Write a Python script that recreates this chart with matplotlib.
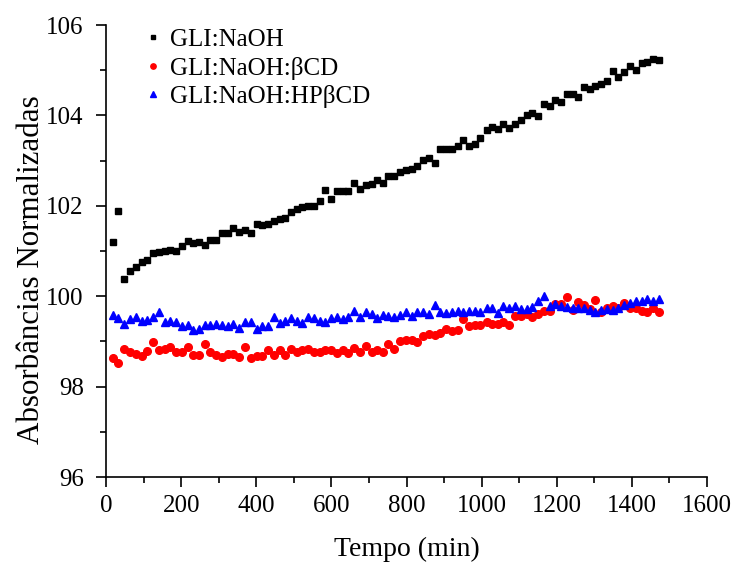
import numpy as np
import matplotlib
matplotlib.use("Agg")
import matplotlib.pyplot as plt
from matplotlib.ticker import MultipleLocator

plt.rcParams['font.family'] = ['Liberation Serif', 'DejaVu Serif']
plt.rcParams['mathtext.fontset'] = 'stix'

# Sampling times (min)
tempo = [18, 33, 49, 64, 79, 95, 110, 125, 140, 156, 171, 186, 202, 217, 232, 248,
         263, 278, 293, 309, 324, 339, 355, 370, 385, 401, 416, 431, 446, 462, 477, 492,
         508, 523, 538, 554, 569, 584, 599, 615, 630, 645, 661, 676, 691, 707, 722, 737,
         752, 768, 783, 798, 814, 829, 844, 860, 875, 890, 905, 921, 936, 951, 967, 982,
         997, 1013, 1028, 1043, 1058, 1074, 1089, 1104, 1120, 1135, 1150, 1166, 1181, 1196, 1211, 1227,
         1242, 1257, 1273, 1288, 1303, 1319, 1334, 1349, 1364, 1380, 1395, 1410, 1426, 1441, 1456, 1472]

gli_naoh = [101.21, 101.88, 100.37, 100.56, 100.65, 100.76, 100.80, 100.95, 100.98, 101.00,
            101.03, 101.01, 101.12, 101.22, 101.17, 101.20, 101.13, 101.24, 101.24, 101.40,
            101.39, 101.50, 101.42, 101.46, 101.40, 101.60, 101.58, 101.60, 101.67, 101.71,
            101.74, 101.86, 101.92, 101.98, 102.00, 102.00, 102.11, 102.34, 102.16, 102.33,
            102.33, 102.33, 102.50, 102.38, 102.45, 102.48, 102.57, 102.51, 102.66, 102.67,
            102.74, 102.80, 102.81, 102.88, 103.01, 103.06, 102.95, 103.25, 103.25, 103.25,
            103.33, 103.46, 103.33, 103.37, 103.49, 103.68, 103.75, 103.70, 103.80, 103.72,
            103.82, 103.90, 104.00, 104.05, 103.99, 104.26, 104.21, 104.34, 104.30, 104.47,
            104.47, 104.41, 104.63, 104.59, 104.64, 104.69, 104.77, 104.99, 104.86, 104.97,
            105.09, 105.00, 105.17, 105.19, 105.25, 105.23]

gli_naoh_bcd = [98.63, 98.53, 98.84, 98.76, 98.72, 98.68, 98.79, 98.98, 98.82, 98.83,
                98.87, 98.77, 98.77, 98.88, 98.69, 98.69, 98.95, 98.77, 98.70, 98.66,
                98.73, 98.72, 98.66, 98.87, 98.64, 98.68, 98.68, 98.81, 98.70, 98.82,
                98.70, 98.83, 98.76, 98.80, 98.83, 98.77, 98.77, 98.81, 98.80, 98.74,
                98.81, 98.75, 98.86, 98.77, 98.89, 98.77, 98.80, 98.77, 98.94, 98.83,
                99.01, 99.03, 99.04, 98.99, 99.12, 99.16, 99.14, 99.18, 99.27, 99.24,
                99.25, 99.50, 99.33, 99.36, 99.36, 99.44, 99.38, 99.38, 99.42, 99.36,
                99.56, 99.56, 99.61, 99.53, 99.61, 99.67, 99.68, 99.82, 99.82, 99.99,
                99.69, 99.88, 99.81, 99.71, 99.92, 99.66, 99.73, 99.78, 99.73, 99.84,
                99.75, 99.75, 99.68, 99.64, 99.73, 99.66]

gli_naoh_hpbcd = [99.58, 99.51, 99.38, 99.49, 99.55, 99.46, 99.47, 99.55, 99.64, 99.44,
                  99.46, 99.44, 99.33, 99.37, 99.25, 99.27, 99.36, 99.37, 99.38, 99.36,
                  99.34, 99.38, 99.30, 99.42, 99.44, 99.27, 99.35, 99.35, 99.55, 99.40,
                  99.46, 99.51, 99.46, 99.40, 99.55, 99.51, 99.46, 99.44, 99.51, 99.55,
                  99.49, 99.55, 99.67, 99.55, 99.64, 99.60, 99.51, 99.58, 99.57, 99.53,
                  99.58, 99.66, 99.56, 99.64, 99.64, 99.60, 99.80, 99.64, 99.62, 99.64,
                  99.68, 99.66, 99.68, 99.68, 99.64, 99.75, 99.75, 99.62, 99.78, 99.73,
                  99.78, 99.72, 99.72, 99.77, 99.89, 100.01, 99.79, 99.82, 99.79, 99.77,
                  99.73, 99.73, 99.73, 99.69, 99.64, 99.69, 99.71, 99.69, 99.73, 99.81,
                  99.84, 99.90, 99.90, 99.94, 99.89, 99.94]

labels = ["GLI:NaOH", "GLI:NaOH:βCD", "GLI:NaOH:HPβCD"]

fig = plt.figure(figsize=(7.46, 5.67), dpi=100)
ax = fig.add_axes([106 / 746, 1 - 477 / 567, 601 / 746, 452 / 567])

ax.plot(tempo, gli_naoh, ls='none', marker='s', ms=4.5, color='black', label=labels[0])
ax.plot(tempo, gli_naoh_bcd, ls='none', marker='o', ms=5.5, color='#ff0000', label=labels[1])
ax.plot(tempo, gli_naoh_hpbcd, ls='none', marker='^', ms=5.6, color='#0000ff', label=labels[2])

ax.set_xlim(0, 1600)
ax.set_ylim(96, 106)
ax.xaxis.set_major_locator(MultipleLocator(200))
ax.xaxis.set_minor_locator(MultipleLocator(100))
ax.yaxis.set_major_locator(MultipleLocator(2))
ax.yaxis.set_minor_locator(MultipleLocator(1))

for side in ('top', 'right'):
    ax.spines[side].set_visible(False)
for side in ('left', 'bottom'):
    ax.spines[side].set_linewidth(1.2)

ax.tick_params(which='major', direction='out', length=7, width=1.2, labelsize=18)
ax.tick_params(which='minor', direction='out', length=4, width=1.2)
ax.tick_params(axis='x', which='major', pad=6)
ax.tick_params(axis='y', which='major', pad=9)

ax.set_xlabel("Tempo (min)", fontsize=20, labelpad=14)
ax.set_ylabel("Absorbâncias Normalizadas", fontsize=22.3)
ax.yaxis.set_label_coords(-0.10, 0.458)

leg = ax.legend(loc='upper left', bbox_to_anchor=(0.053, 1.014), frameon=False,
                fontsize=18, markerscale=0.7, handlelength=0.4, handletextpad=0.48,
                labelspacing=0.22, borderaxespad=0)

fig.savefig("out.png", dpi=100)
